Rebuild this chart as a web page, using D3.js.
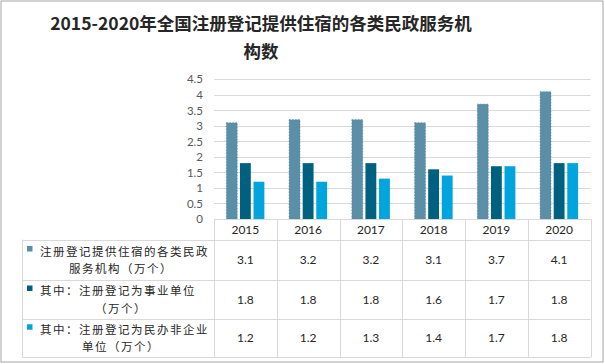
<!DOCTYPE html>
<html><head><meta charset="utf-8">
<script src="https://cdn.jsdelivr.net/npm/d3@7"></script>
<style>
html,body{margin:0;padding:0;background:#fff;}
svg{display:block;}
</style></head><body>
<svg id="c" width="605" height="364"></svg>
<script>
const titleLines = ["2015-2020年全国注册登记提供住宿的各类民政服务机", "构数"];
const years = ["2015","2016","2017","2018","2019","2020"];
const seriesNames = [
  ["注册登记提供住宿的各类民政", "服务机构（万个）"],
  ["其中：注册登记为事业单位", "（万个）"],
  ["其中：注册登记为民办非企业", "单位（万个）"]
];
const seriesA = [3.1, 3.2, 3.2, 3.1, 3.7, 4.1];
const seriesB = [1.8, 1.8, 1.8, 1.6, 1.7, 1.8];
const seriesC = [1.2, 1.2, 1.3, 1.4, 1.7, 1.8];
const colors = ["#5B8FA8", "#00607F", "#00A5DE"];
const yTicks = [0, 0.5, 1, 1.5, 2, 2.5, 3, 3.5, 4, 4.5];

const series = [seriesA, seriesB, seriesC];
const svg = d3.select("#c");
const W = 605, H = 364;
const CJK = "'Noto Sans CJK SC','Noto Sans',sans-serif";
const NUM = "Lato,'Open Sans',sans-serif";

// outer frame
svg.append("rect").attr("x",1).attr("y",1).attr("width",W-3).attr("height",H-3)
  .attr("fill","#fff").attr("stroke","#a6a6a6").attr("stroke-width",1);

// title
const title = svg.append("text").attr("text-anchor","middle")
  .style("font-family",CJK).attr("font-size",17.5).attr("font-weight","bold").attr("fill","#262626");
titleLines.forEach((t,i)=>{
  title.append("tspan").attr("x",261).attr("y",30+i*28).text(t);
});

const x0 = 214, x1 = 590.5, yTop = 79.3, yBot = 219;
const x = d3.scaleBand().domain(years).range([x0, x1]).paddingInner(0).paddingOuter(0);
const y = d3.scaleLinear().domain([0, 4.5]).range([yBot, yTop]);

// gridlines
svg.append("g").selectAll("line").data(yTicks.filter(d=>d>0)).join("line")
  .attr("x1",x0).attr("x2",x1).attr("y1",d=>Math.round(y(d))+0.5).attr("y2",d=>Math.round(y(d))+0.5)
  .attr("stroke","#d9d9d9").attr("stroke-width",1);

// y axis labels
const yAxis = d3.axisLeft(y).tickValues(yTicks).tickSize(0).tickPadding(0).tickFormat(d3.format("~g"));
const ga = svg.append("g").attr("transform",`translate(${203},0)`).call(yAxis);
ga.select(".domain").remove();
ga.selectAll("text").attr("font-size",11.5).attr("fill","#595959").style("font-family",NUM);

// bars
const bw = 38;
const inner = d3.scaleBand().domain([0,1,2]).paddingInner(0.2).paddingOuter(0);
years.forEach((yr,i)=>{
  const cx = x(yr) + x.bandwidth()/2;
  inner.range([cx - bw/2, cx + bw/2]);
  series.forEach((s,k)=>{
    svg.append("rect")
      .attr("x", inner(k)).attr("width", inner.bandwidth())
      .attr("y", y(s[i])).attr("height", y(0)-y(s[i]))
      .attr("fill", colors[k])
      .attr("stroke", k===0 ? "#4a7a92" : "none")
      .attr("stroke-width", k===0 ? 0.6 : 0)
      .attr("stroke-dasharray", k===0 ? "1.5,1.5" : null);
  });
});

// data table
const tableLeft = 22;
const rowEdges = [yBot, 239.5, 279.5, 318.5, 357];
const gridC = "#d9d9d9";
const tg = svg.append("g");
tg.append("line").attr("x1",x0).attr("x2",x1).attr("y1",yBot+0.5).attr("y2",yBot+0.5).attr("stroke",gridC);
rowEdges.slice(1).forEach(ry=>{
  tg.append("line").attr("x1",tableLeft).attr("x2",x1).attr("y1",Math.round(ry)+0.5).attr("y2",Math.round(ry)+0.5).attr("stroke",gridC);
});
tg.append("line").attr("x1",tableLeft+0.5).attr("x2",tableLeft+0.5).attr("y1",rowEdges[1]).attr("y2",rowEdges[4]+0.5).attr("stroke",gridC);
const vx = years.map(yr=>x(yr)).concat([x1]);
vx.forEach(vv=>{
  tg.append("line").attr("x1",Math.round(vv)+0.5).attr("x2",Math.round(vv)+0.5).attr("y1",yBot).attr("y2",rowEdges[4]+0.5).attr("stroke",gridC);
});
// year labels
tg.selectAll("text.yr").data(years).join("text").attr("class","yr")
  .attr("x",d=>x(d)+x.bandwidth()/2).attr("y",(rowEdges[0]+rowEdges[1])/2+4.5)
  .attr("text-anchor","middle").attr("font-size",12).attr("fill","#262626")
  .style("font-family",NUM).text(d=>d);
// rows
series.forEach((s,k)=>{
  const top = rowEdges[k+1], bot = rowEdges[k+2], mid = (top+bot)/2;
  tg.selectAll(null).data(s).join("text")
    .attr("x",(d,i)=>x(years[i])+x.bandwidth()/2).attr("y",mid+4.5)
    .attr("text-anchor","middle").attr("font-size",12).attr("fill","#262626")
    .style("font-family",NUM).text(d=>d.toFixed(1));
  const lines = seriesNames[k];
  const cellMid = (tableLeft + x0)/2;
  tg.append("rect").attr("x",27).attr("y",mid-13.5).attr("width",5.5).attr("height",5.5).attr("fill",colors[k]);
  tg.append("text").style("font-family",CJK).attr("font-size",11.5).attr("letter-spacing",1.5)
    .attr("fill","#262626").attr("x",40).attr("y",mid-4).text(lines[0]);
  tg.append("text").style("font-family",CJK).attr("font-size",11.5).attr("letter-spacing",1.5)
    .attr("fill","#262626").attr("x",cellMid+3).attr("text-anchor","middle").attr("y",mid+13.5).text(lines[1]);
});
</script>
</body></html>
